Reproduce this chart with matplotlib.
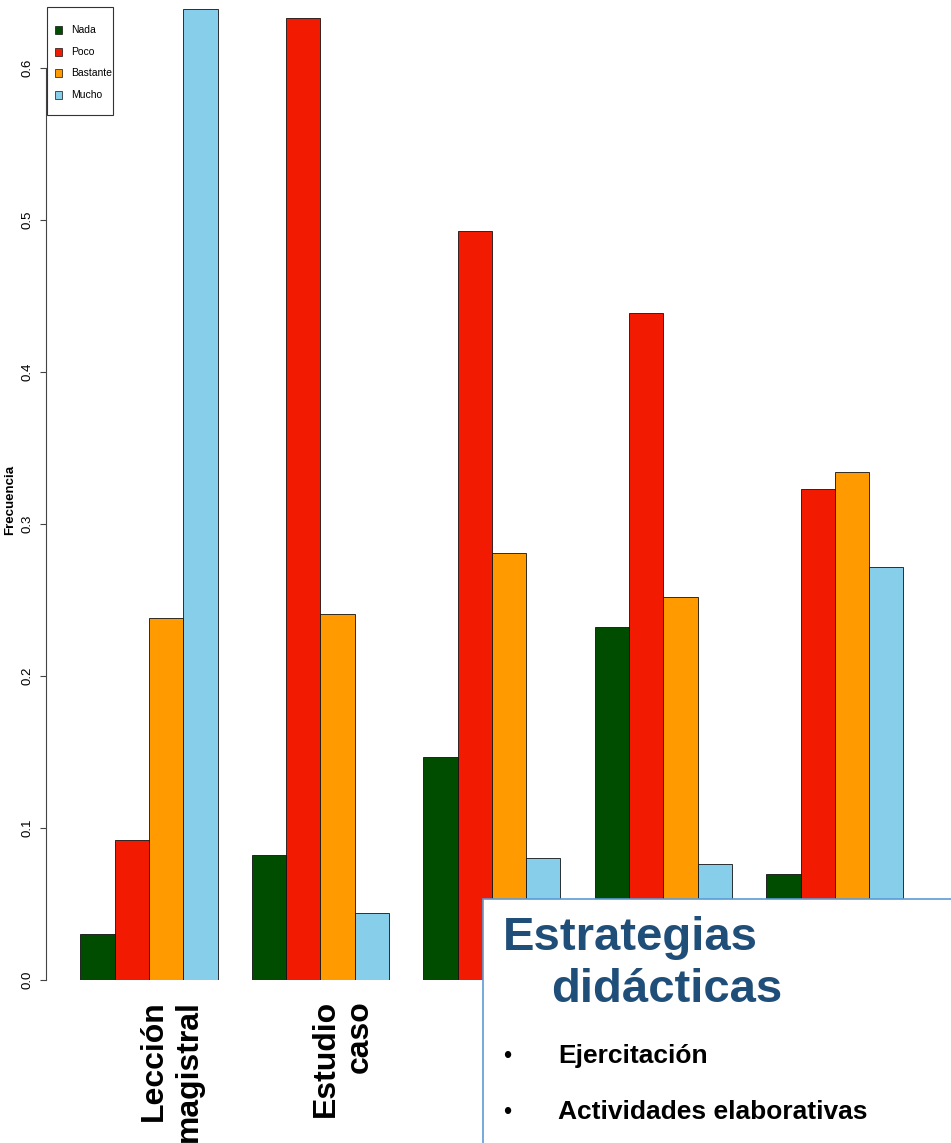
import matplotlib
matplotlib.use('Agg')
import matplotlib.pyplot as plt
from matplotlib.patches import Rectangle

## data
grupos = ['Lección\nmagistral', 'Estudio\ncaso', '', '', '']
niveles = ['Nada', 'Poco', 'Bastante', 'Mucho']
nada = [0.030, 0.082, 0.147, 0.232, 0.070]
poco = [0.092, 0.633, 0.493, 0.439, 0.323]
bastante = [0.238, 0.241, 0.281, 0.252, 0.334]
mucho = [0.639, 0.044, 0.080, 0.076, 0.272]
colores = ['#004d00', '#f21a00', '#ff9a00', '#87ceeb']

titulo = ['Estrategias', 'didácticas']
viñetas = ['Ejercitación', 'Actividades elaborativas']

W, H = 951, 1143
plt.rcParams['font.family'] = ['Liberation Sans', 'DejaVu Sans']


def px(x, y):
    # pixel (from top-left) -> figure fraction
    return x / W, 1 - y / H


fig = plt.figure(figsize=(W / 100, H / 100), dpi=100)

# axes laid out so one bar = 34.3 px, 0.1 = 152 px
unit = 34.3
x0, y0 = 46, 980
ax = fig.add_axes([x0 / W, (H - y0) / H, (W - x0) / W, y0 / H])
ax.set_xlim(0, (W - x0) / unit)
ax.set_ylim(0, y0 / 1520)

series = [nada, poco, bastante, mucho]
for g in range(len(grupos)):
    for k, s in enumerate(series):
        ax.bar(1 + 5 * g + k, s[g], width=1, align='edge', color=colores[k],
               edgecolor='#111111', linewidth=0.6)

for sp in ['top', 'right', 'bottom']:
    ax.spines[sp].set_visible(False)
ax.spines['left'].set_bounds(0, 0.6)
ax.spines['left'].set_linewidth(0.8)
ax.spines['left'].set_color('#444444')
ax.set_xticks([])
ax.set_yticks([0, 0.1, 0.2, 0.3, 0.4, 0.5, 0.6])
ax.set_yticklabels(['0.0', '0.1', '0.2', '0.3', '0.4', '0.5', '0.6'],
                   rotation=90, va='center', fontsize=9.5)
ax.tick_params(axis='y', length=4, width=0.8, color='#444444', pad=5)

fig.text(*px(10, 500), 'Frecuencia', rotation=90, ha='center', va='center',
         fontsize=9.5, fontweight='bold')

# category labels (only first two are visible)
for g, lab in enumerate(grupos):
    if lab:
        ax.text(3 + 5 * g + 0.65, -20 / 1520, lab, rotation=90, ha='center', va='top',
                multialignment='right', fontsize=23, fontweight='bold',
                linespacing=1.2, clip_on=False)

# legend box drawn by hand (R style)
fig.add_artist(Rectangle(px(47, 115), 66 / W, 108 / H, transform=fig.transFigure,
                         facecolor='white', edgecolor='#333333', linewidth=0.8, zorder=3))
for i, (lab, c) in enumerate(zip(niveles, colores)):
    yc = 30 + 21.7 * i
    fig.add_artist(Rectangle(px(55, yc + 4), 7 / W, 8 / H, transform=fig.transFigure,
                             facecolor=c, edgecolor='#111111', linewidth=0.5, zorder=4))
    fig.text(*px(71, yc), lab, fontsize=7.5, va='center', ha='left', zorder=4)

# overlay box bottom right
box = Rectangle(px(483, H + 5), (W + 5 - 483) / W, (H + 5 - 899) / H,
                transform=fig.transFigure, facecolor='white', edgecolor='#5b9bd5',
                linewidth=1.2, zorder=5)
fig.add_artist(box)

fig.text(*px(503, 950), titulo[0], fontsize=34, fontweight='bold', color='#1f4e79',
         va='baseline', zorder=6)
fig.text(*px(551, 1002), titulo[1], fontsize=34, fontweight='bold', color='#1f4e79',
         va='baseline', zorder=6)
for i, t in enumerate(viñetas):
    yb = 1063 + 56 * i
    fig.text(*px(503, yb), '•', fontsize=17, va='baseline', zorder=6)
    fig.text(*px(558, yb), t, fontsize=19, fontweight='bold', va='baseline', zorder=6)

fig.savefig('out.png', dpi=100)
